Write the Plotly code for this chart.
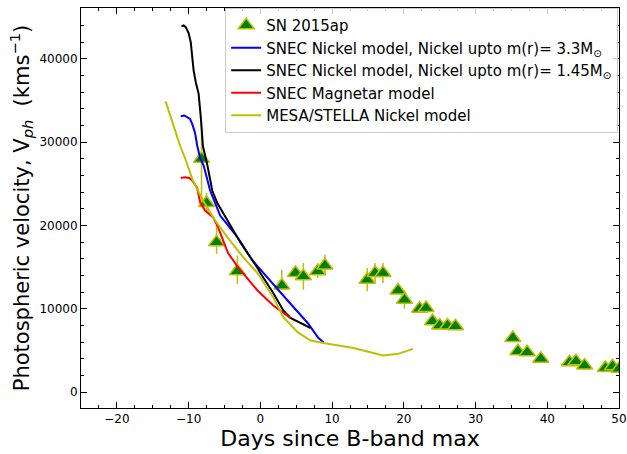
import plotly.graph_objects as go

# Observed SN 2015ap photospheric velocities
obs_days = [-8.2, -7.5, -6.1, -3.2, 3.0, 4.9, 6.0, 8.0, 9.0,
            14.9, 16.0, 17.1, 19.2, 20.1, 22.2, 23.1, 24.0, 25.0, 26.1, 27.2,
            35.2, 35.9, 37.2, 39.1, 43.1, 44.0, 45.2, 48.1, 49.1, 50.0]
obs_vel = [28000, 22700, 18000, 14500, 12800, 14300, 13900, 14500, 15200,
           13500, 14300, 14300, 12200, 11100, 10000, 10100, 8500, 8000, 8000, 7900,
           6500, 4900, 4800, 4000, 3600, 3700, 3200, 2900, 3100, 2800]
obs_err_up = [4300, 1200, 2000, 1900, 1900, 300, 1600, 1000, 1300,
              1400, 1200, 1200, 300, 1100, 300, 300, 300, 300, 300, 300,
              300, 300, 300, 300, 300, 300, 300, 300, 300, 300]
obs_err_dn = [5800, 1200, 1400, 1500, 500, 300, 1600, 800, 1000,
              1400, 1200, 1200, 300, 1100, 300, 300, 300, 300, 300, 300,
              300, 300, 300, 300, 300, 300, 300, 300, 300, 300]

# SNEC Nickel model, Ni up to 3.3 Msun (blue)
blue_days = [-11.1, -10.6, -10.2, -9.8, -9.5, -9.1, -8.8, -8.4, -7.9, -7.0, -5.6, -3.2, -1.1, 1.0, 3.8, 6.6, 8.1, 8.8]
blue_vel = [33100, 33200, 33000, 32800, 32200, 31100, 29600, 28100, 27200, 24200, 21200, 18600, 15800, 13800, 11000, 8300, 6500, 6000]

# SNEC Nickel model, Ni up to 1.45 Msun (black)
black_days = [-11.0, -10.7, -10.4, -10.0, -9.7, -9.5, -9.3, -9.0, -8.6, -8.3, -8.0, -7.4, -6.7, -6.0, -4.6, -2.8, -0.4, 0.0, 1.8, 3.2, 4.2, 7.0]
black_vel = [43900, 44000, 43800, 43100, 42000, 40500, 38600, 37200, 35800, 33000, 29500, 27300, 24200, 22700, 20600, 18000, 14900, 14300, 11900, 9800, 8900, 7700]

# SNEC Magnetar model (red)
red_days = [-11.1, -10.5, -9.9, -9.5, -8.8, -8.4, -7.7, -6.6, -5.9, -5.2, -4.5, -3.2, -0.4, 1.8, 4.2]
red_vel = [25700, 25800, 25700, 25400, 24500, 22800, 21800, 21000, 19800, 18200, 16700, 15100, 12200, 10400, 8900]

# MESA/STELLA Nickel model (olive)
mesa_days = [-13.2, -12.2, -11.2, -10.5, -9.4, -8.0, -6.3, -4.6, -2.4, -0.4, 1.8, 3.2, 5.2, 7.0, 8.8, 13.0, 17.1, 19.2, 21.3]
mesa_vel = [34900, 32300, 29600, 28100, 25400, 23000, 20600, 18600, 16200, 14300, 11400, 9000, 7200, 6200, 5900, 5300, 4400, 4600, 5200]

FONT = "DejaVu Sans"
OLIVE = "#bfbf00"

fig = go.Figure()
fig.add_trace(go.Scatter(
    x=obs_days, y=obs_vel, mode="markers", name="SN 2015ap", legendgroup="a",
    marker=dict(symbol="triangle-up", size=14, color="#008000",
                line=dict(color=OLIVE, width=1.5)),
    error_y=dict(type="data", array=obs_err_up, arrayminus=obs_err_dn,
                 color=OLIVE, thickness=1.5, width=0),
))
fig.add_trace(go.Scatter(x=blue_days, y=blue_vel, mode="lines", legendgroup="b",
                         name="SNEC Nickel model, Nickel upto m(r)= 3.3M<sub>⊙</sub>",
                         line=dict(color="#0000ff", width=2)))
fig.add_trace(go.Scatter(x=black_days, y=black_vel, mode="lines", legendgroup="c",
                         name="SNEC Nickel model, Nickel upto m(r)= 1.45M<sub>⊙</sub>",
                         line=dict(color="#000000", width=2)))
fig.add_trace(go.Scatter(x=red_days, y=red_vel, mode="lines", legendgroup="d",
                         name="SNEC Magnetar model",
                         line=dict(color="#ff0000", width=2)))
fig.add_trace(go.Scatter(x=mesa_days, y=mesa_vel, mode="lines", legendgroup="e",
                         name="MESA/STELLA Nickel model",
                         line=dict(color=OLIVE, width=2)))

axis_common = dict(
    showgrid=False, zeroline=False, showline=True, linecolor="black", linewidth=1,
    mirror="allticks", ticks="inside", ticklen=6, tickwidth=1, tickcolor="black",
    tickfont=dict(family=FONT, size=12, color="black"), automargin=False,
)
fig.update_xaxes(**axis_common, range=[-25, 50], dtick=10, tick0=0, tickformat="d",
                 minor=dict(ticks="inside", ticklen=3, dtick=2.5, tick0=0, tickcolor="black"),
                 title=dict(text="Days since B-band max", font=dict(family=FONT, size=22, color="black"),
                            standoff=2))
fig.update_yaxes(**axis_common, range=[-1900, 46100], dtick=10000, tick0=0, tickformat="d",
                 minor=dict(ticks="inside", ticklen=3, dtick=2000, tick0=0, tickcolor="black"),
                 title=dict(text="Photospheric velocity, V<sub><i>ph</i></sub>  (kms<sup>−1</sup>)",
                            font=dict(family=FONT, size=21, color="black"), standoff=4))

fig.update_layout(
    width=627, height=454, autosize=False,
    margin=dict(l=81, r=8, t=8, b=46, autoexpand=False),
    plot_bgcolor="white", paper_bgcolor="white",
    font=dict(family=FONT, color="black"),
    legend=dict(x=0.268, y=1.0, xanchor="left", yanchor="top",
                bgcolor="rgba(255,255,255,0.8)", bordercolor="#cccccc", borderwidth=1,
                font=dict(family=FONT, size=15, color="black"),
                tracegroupgap=0, itemwidth=30),
    showlegend=True,
)

# remove the default 8px body margin of the page so the figure fills the window
fig.write_html("out.html", config={"displayModeBar": False},
               post_script="document.body.style.margin='0';document.body.style.overflow='hidden';")
